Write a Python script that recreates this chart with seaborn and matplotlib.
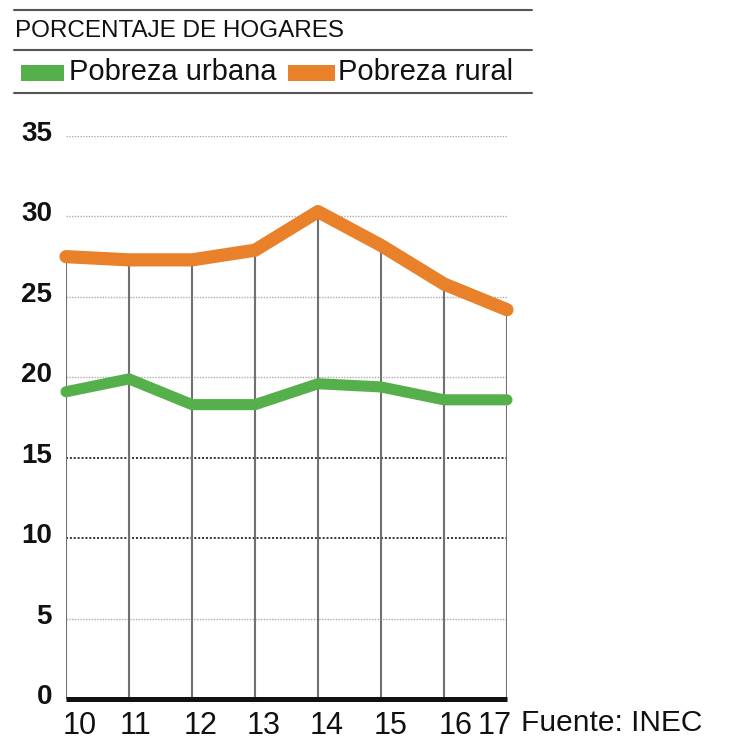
import matplotlib
matplotlib.use("Agg")
import matplotlib.pyplot as plt
from matplotlib.patches import Rectangle
from matplotlib.lines import Line2D
from matplotlib.transforms import ScaledTranslation
import seaborn as sns
import pandas as pd

years = [10, 11, 12, 13, 14, 15, 16, 17]
urbana = [19.1, 19.9, 18.3, 18.3, 19.6, 19.4, 18.6, 18.6]
rural = [27.5, 27.3, 27.3, 27.9, 30.3, 28.2, 25.8, 24.2]
yticks = [0, 5, 10, 15, 20, 25, 30, 35]
series_names = ["Pobreza urbana", "Pobreza rural"]
header = "PORCENTAJE DE HOGARES"
source = "Fuente: INEC"

GREEN = "#55b04b"
ORANGE = "#e8812a"

sns.set_theme(style="white")
plt.rcParams["font.family"] = ["Liberation Sans", "DejaVu Sans"]

df = pd.DataFrame({
    "year": years * 2,
    "value": urbana + rural,
    "serie": [series_names[0]] * len(years) + [series_names[1]] * len(years),
})

fig = plt.figure(figsize=(7.33, 7.43), dpi=100)
W, H = 733, 743
ax = fig.add_axes([66 / W, 1 - 699 / H, (507 - 66) / W, (699 - 136) / H])
ax.set_xlim(10, 17)
ax.set_ylim(0, 35)

# horizontal dotted grid lines
for t in yticks[1:]:
    dark = t in (10, 15)
    ax.hlines(t, years[0], years[-1], colors="#333333" if dark else "#aaaaaa",
              linestyles=(0, (1, 1)), linewidth=1.4 if dark else 1.0, zorder=1)

# vertical lines from baseline to rural line
ax.vlines(years, 0, rural, colors="#707070", linewidth=1.5, zorder=2)

sns.lineplot(data=df, x="year", y="value", hue="serie",
             palette={series_names[0]: GREEN, series_names[1]: ORANGE},
             linewidth=8, legend=False, ax=ax, zorder=3)
for ln in ax.lines:
    ln.set_solid_capstyle("round")
    ln.set_solid_joinstyle("round")
    ln.set_clip_on(False)
    if matplotlib.colors.to_hex(ln.get_color()) == ORANGE:
        ln.set_linewidth(9.5)

# baseline
ax.hlines(0, years[0], years[-1], colors="#111111", linewidth=3.6, zorder=4, clip_on=False)

for s in ax.spines.values():
    s.set_visible(False)
ax.set_xlabel("")
ax.set_ylabel("")
ax.set_xticks(years)
ax.set_xticklabels([str(y) for y in years], fontsize=22, color="#111111")
ax.set_yticks(yticks)
ax.set_yticklabels([str(t) for t in yticks], fontweight="bold", fontsize=20, color="#111111")
ax.tick_params(axis="x", length=0, pad=9)
ax.tick_params(axis="y", length=0, pad=10)

# shift tick labels (pixels) as in the reference layout
x_shift_px = [14, 7, 9, 9, 9, 10, 12, -12]
for lab, dx in zip(ax.get_xticklabels(), x_shift_px):
    lab.set_transform(lab.get_transform() + ScaledTranslation(dx / 100, 0, fig.dpi_scale_trans))
for lab in ax.get_yticklabels():
    lab.set_transform(lab.get_transform() + ScaledTranslation(0, 5 / 100, fig.dpi_scale_trans))

# header rules
for yy in (10, 50, 93):
    fig.add_artist(Line2D([14 / W, 532 / W], [1 - yy / H, 1 - yy / H],
                          transform=fig.transFigure, color="#555555", linewidth=1.5))
fig.text(15 / W, 1 - 31 / H, header, fontsize=17.5, color="#111111", va="center", ha="left")

# legend
fig.add_artist(Rectangle((21 / W, 1 - 81 / H), 43 / W, 16 / H, transform=fig.transFigure,
                         facecolor=GREEN, edgecolor="none"))
fig.text(69 / W, 1 - 72 / H, series_names[0], fontsize=21, color="#111111", va="center", ha="left")
fig.add_artist(Rectangle((288 / W, 1 - 81 / H), 47 / W, 16 / H, transform=fig.transFigure,
                         facecolor=ORANGE, edgecolor="none"))
fig.text(338 / W, 1 - 72 / H, series_names[1], fontsize=21, color="#111111", va="center", ha="left")

fig.text(521 / W, 1 - 723 / H, source, fontsize=21.5, color="#111111",
         va="center", ha="left")

fig.savefig("out.png", dpi=100)
